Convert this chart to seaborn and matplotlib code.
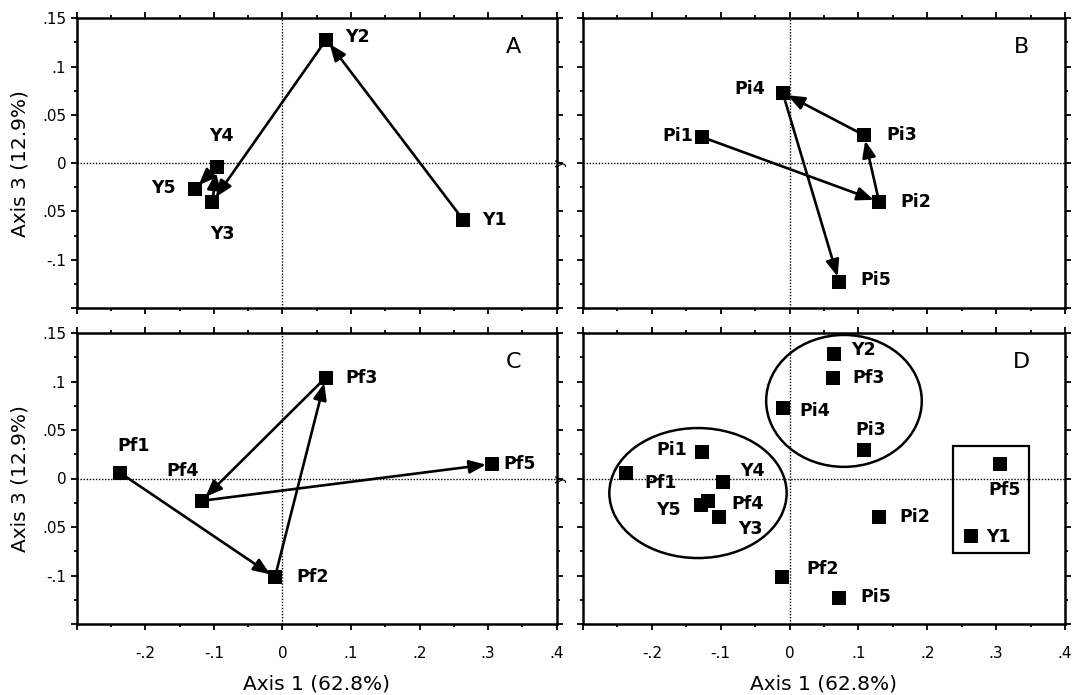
import numpy as np
import pandas as pd
import matplotlib
matplotlib.use("Agg")
import matplotlib.pyplot as plt
import seaborn as sns
from matplotlib.patches import Ellipse, Rectangle
from matplotlib.ticker import FixedLocator, MultipleLocator

# ---------------- data ----------------
y_names = ["Y1", "Y2", "Y3", "Y4", "Y5"]
y_axis1 = [0.264, 0.064, -0.102, -0.096, -0.128]
y_axis3 = [-0.059, 0.128, -0.040, -0.004, -0.027]

pi_names = ["Pi1", "Pi2", "Pi3", "Pi4", "Pi5"]
pi_axis1 = [-0.127, 0.130, 0.108, -0.010, 0.072]
pi_axis3 = [0.027, -0.040, 0.029, 0.073, -0.123]

pf_names = ["Pf1", "Pf2", "Pf3", "Pf4", "Pf5"]
pf_axis1 = [-0.237, -0.011, 0.063, -0.118, 0.305]
pf_axis3 = [0.006, -0.102, 0.104, -0.023, 0.015]

x_ticks = [-0.3, -0.2, -0.1, 0.0, 0.1, 0.2, 0.3, 0.4]
x_ticklabels = ["", "-.2", "-.1", "0", ".1", ".2", ".3", ".4"]
y_ticks = [-0.15, -0.1, -0.05, 0.0, 0.05, 0.1, 0.15]
y_ticklabels = ["", "-.1", ".05", "0", ".05", ".1", ".15"]

x_label = "Axis 1 (62.8%)"
y_label = "Axis 3 (12.9%)"

# ---------------- style ----------------
sns.set_style("ticks")
plt.rcParams["font.family"] = ["DejaVu Sans"]
plt.rcParams["axes.linewidth"] = 1.8
for key in ("text.color", "axes.labelcolor", "xtick.color", "ytick.color",
            "axes.edgecolor", "xtick.labelcolor", "ytick.labelcolor"):
    plt.rcParams[key] = "black"

fig = plt.figure(figsize=(10.78, 6.95), dpi=100)
W, H = 1078, 695


def make_ax(left, right, top, bottom):
    return fig.add_axes([left / W, 1 - bottom / H, (right - left) / W, (bottom - top) / H])


axA = make_ax(76.7, 556.7, 18.3, 308)
axB = make_ax(583, 1065, 18.3, 308)
axC = make_ax(76.7, 556.7, 333, 624)
axD = make_ax(583, 1065, 333, 624)

df_y = pd.DataFrame({"name": y_names, "x": y_axis1, "y": y_axis3})
df_pi = pd.DataFrame({"name": pi_names, "x": pi_axis1, "y": pi_axis3})
df_pf = pd.DataFrame({"name": pf_names, "x": pf_axis1, "y": pf_axis3})

label_fs = 12.5
label_kw = dict(fontsize=label_fs, fontweight="bold", color="black",
                textcoords="offset pixels", va="center", zorder=5)


def setup(ax, letter, show_x, show_y):
    ax.set_xlim(-0.3, 0.4)
    ax.set_ylim(-0.15, 0.15)
    ax.xaxis.set_major_locator(FixedLocator(x_ticks))
    ax.yaxis.set_major_locator(FixedLocator(y_ticks))
    ax.xaxis.set_minor_locator(MultipleLocator(0.05))
    ax.yaxis.set_minor_locator(MultipleLocator(0.025))
    ax.tick_params(which="both", direction="out", top=True, right=True,
                   width=1.3, color="black", labelcolor="black")
    ax.tick_params(which="major", length=4.5, labelsize=11, pad=3)
    ax.tick_params(which="minor", length=2.5)
    ax.tick_params(axis="x", which="major", pad=11)
    if show_x:
        ax.set_xticklabels(x_ticklabels)
        ax.set_xlabel(x_label, fontsize=14.5, labelpad=10, color="black")
    else:
        ax.set_xticklabels([])
        ax.set_xlabel("")
    if show_y:
        ax.set_yticklabels(y_ticklabels)
        ax.set_ylabel(y_label, fontsize=14.5, labelpad=9, color="black")
    else:
        ax.set_yticklabels([])
        ax.set_ylabel("")
    for sp in ax.spines.values():
        sp.set_visible(True)
        sp.set_linewidth(1.8)
        sp.set_color("black")
    ax.axhline(0, color="black", lw=1.0, ls=(0, (1, 1.2)), zorder=1)
    ax.axvline(0, color="black", lw=1.0, ls=(0, (1, 1.2)), zorder=1)
    ax.text(0.91, 0.90, letter, transform=ax.transAxes, fontsize=16,
            ha="center", va="center", color="black")


def points(ax, df):
    sns.scatterplot(data=df, x="x", y="y", ax=ax, marker="s", s=105,
                    color="black", edgecolor="black", linewidth=0, zorder=4,
                    legend=False)


def arrows(ax, df):
    xs, ys = list(df["x"]), list(df["y"])
    for i in range(len(xs) - 1):
        ax.annotate("", xy=(xs[i + 1], ys[i + 1]), xytext=(xs[i], ys[i]),
                    arrowprops=dict(arrowstyle="-|>,head_length=0.5,head_width=0.2",
                                    mutation_scale=20, lw=1.9, color="black",
                                    shrinkA=0, shrinkB=4),
                    zorder=3)


def labels(ax, df, offsets):
    for name, x, y in zip(df["name"], df["x"], df["y"]):
        dx, dy, ha = offsets[name]
        ax.annotate(name, xy=(x, y), xytext=(dx, dy), ha=ha, **label_kw)


# Panel A
setup(axA, "A", False, True)
arrows(axA, df_y)
points(axA, df_y)
labels(axA, df_y, {"Y1": (19, 0, "left"), "Y2": (19, 3, "left"),
                   "Y3": (10, -32, "center"), "Y4": (5, 31, "center"),
                   "Y5": (-19, 1, "right")})

# Panel B
setup(axB, "B", False, False)
arrows(axB, df_pi)
points(axB, df_pi)
labels(axB, df_pi, {"Pi1": (-9, 1, "right"), "Pi2": (21, 0, "left"),
                    "Pi3": (22, 0, "left"), "Pi4": (-18, 4, "right"),
                    "Pi5": (21, 2, "left")})

# Panel C
setup(axC, "C", True, True)
arrows(axC, df_pf)
points(axC, df_pf)
labels(axC, df_pf, {"Pf1": (14, 27, "center"), "Pf2": (22, 0, "left"),
                    "Pf3": (20, 0, "left"), "Pf4": (-19, 30, "center"),
                    "Pf5": (12, 0, "left")})

# Panel D
setup(axD, "D", True, False)
for df in (df_y, df_pi, df_pf):
    points(axD, df)
labels(axD, df_y, {"Y1": (15, -1, "left"), "Y2": (18, 4, "left"),
                   "Y3": (31, -12, "center"), "Y4": (29, 11, "center"),
                   "Y5": (-33, -5, "center")})
labels(axD, df_pi, {"Pi1": (-15, 2, "right"), "Pi2": (20, 0, "left"),
                    "Pi3": (7, 20, "center"), "Pi4": (17, -3, "left"),
                    "Pi5": (21, 1, "left")})
labels(axD, df_pf, {"Pf1": (34, -10, "center"), "Pf2": (41, 8, "center"),
                    "Pf3": (19, 0, "left"), "Pf4": (23, -3, "left"),
                    "Pf5": (5, -26, "center")})
axD.add_patch(Ellipse((-0.133, -0.015), 0.2575, 0.134, fill=False,
                      lw=1.8, ec="black", zorder=2))
axD.add_patch(Ellipse((0.079, 0.080), 0.226, 0.136, fill=False,
                      lw=1.8, ec="black", zorder=2))
axD.add_patch(Rectangle((0.2375, -0.0765), 0.110, 0.1097, fill=False,
                        lw=1.6, ec="black", zorder=2))

fig.savefig("out.png", dpi=100)
